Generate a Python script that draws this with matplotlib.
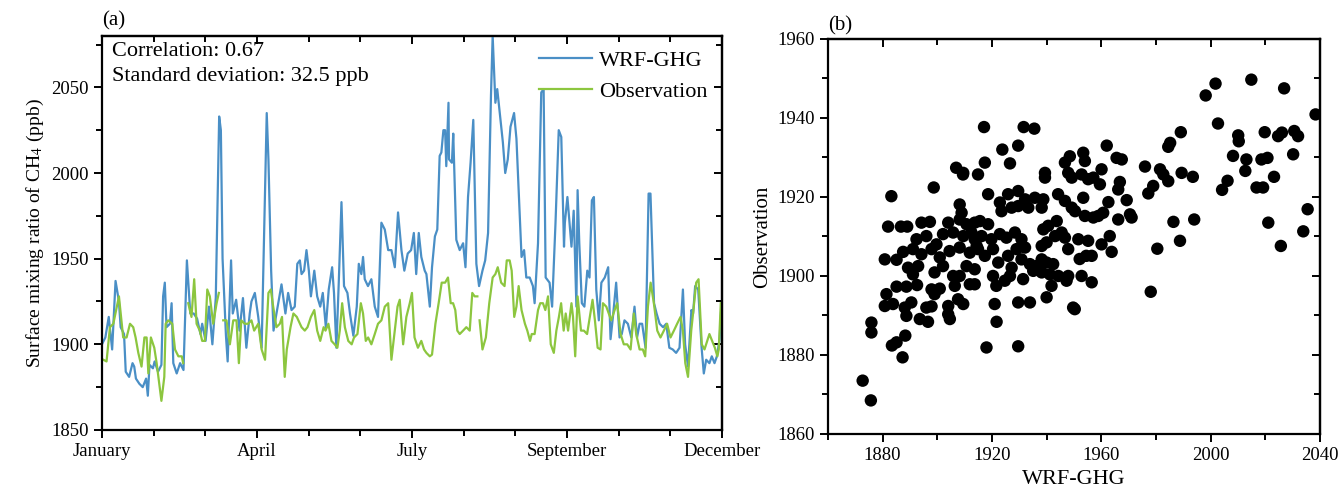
import numpy as np
import matplotlib
matplotlib.use("Agg")
from matplotlib import pyplot as plt
from matplotlib.ticker import MultipleLocator, FixedLocator

plt.rcParams['font.family'] = ['Liberation Serif', 'DejaVu Serif']
plt.rcParams['mathtext.fontset'] = 'stix'

# ---- (a) daily time series, x in day of year ----
wrf_day = [0, 2, 4, 6, 8, 10, 11, 13, 14, 16, 18, 19, 20, 22, 24, 26, 27, 28, 30, 31,
           33, 35, 36, 37, 38, 40, 41, 42, 44, 46, 48, 49, 50, 52, 54, 56, 58, 59, 61, 63,
           65, 67, 69, 70, 71, 73, 74, 76, 77, 79, 81, 83, 85, 87, 88, 90, 92, 94, 97, 98,
           99.6, 101, 105.7, 108, 109.6, 111.6, 113.5, 115, 116.5, 117.5, 119, 120.4, 121.8, 123, 125, 126.7, 128.5, 130, 131.8, 133.5,
           135.5, 136.6, 138, 139.4, 141, 142.5, 144.5, 146, 148, 150, 151.2, 152.7, 153.7, 154.7, 156.6, 158.6, 160.6, 162.5, 164.5, 166.5,
           168.5, 170.4, 172.4, 174.3, 176.3, 178, 180, 182, 183.6, 185, 186.5, 188, 190, 191, 193, 194.3, 196, 197.4, 198.8, 199.8,
           201, 202, 202.7, 204, 204.3, 206, 206.8, 208.6, 210.6, 212.6, 214, 215.5, 217, 218.6, 220.4, 222, 224, 225.6, 227.3, 229,
           230, 231.6, 232.7, 234, 236, 237.4, 238.9, 240.5, 242.6, 244, 245.3, 247, 248.5, 249.8, 251.8, 253.7, 254.7, 256.7, 258.6, 260,
           261.2, 263.5, 265, 267, 268.9, 270.4, 272, 272.5, 274, 276.4, 277.7, 279.3, 280, 281, 282.5, 284, 285.7, 287, 288.4, 289.6,
           291, 292.5, 294, 296, 298, 299.4, 300.8, 302.7, 304.7, 306, 307.6, 309.6, 311.6, 313.5, 315, 316.5, 318, 320, 321.8, 322.9,
           325, 326.5, 328.3, 330.3, 332.2, 334, 336, 338, 340, 342, 343.3, 345, 347, 348, 349.2, 351, 353, 354.3, 355.7, 357.6,
           359, 360.6, 362, 363.6, 364.5]
wrf_ch4 = [1900, 1904, 1916, 1897, 1937, 1925, 1910, 1906, 1884, 1881, 1889, 1887, 1880, 1877, 1875, 1880, 1870, 1888, 1886, 1890,
           1884, 1888, 1928, 1936, 1910, 1912, 1924, 1889, 1883, 1889, 1885, 1918, 1949, 1918, 1918, 1915, 1906, 1912, 1902, 1922,
           1900, 1927, 2033, 2025, 1950, 1905, 1890, 1949, 1918, 1926, 1908, 1927, 1898, 1918, 1925, 1930, 1916, 1898, 2035, 2008,
           1943, 1908, 1935, 1918, 1930, 1920, 1922, 1947, 1949, 1941, 1943, 1955, 1943, 1928, 1943, 1928, 1922, 1930, 1910, 1932,
           1945, 1930, 1898, 1936, 1983, 1934, 1930, 1918, 1905, 1922, 1947, 1941, 1951, 1938, 1934, 1938, 1922, 1916, 1971, 1967,
           1955, 1955, 1945, 1977, 1955, 1943, 1953, 1955, 1965, 1941, 1965, 1951, 1943, 1941, 1922, 1945, 1963, 1967, 2010, 2012,
           2025, 2025, 2004, 2041, 2008, 2006, 2023, 1961, 1955, 1959, 1945, 1986, 2006, 2031, 1947, 1934, 1943, 1949, 1965, 2045,
           2080, 2041, 2049, 2037, 2018, 2000, 2008, 2027, 2035, 2020, 1990, 1951, 1955, 1939, 1939, 1934, 1924, 1959, 2047, 2049,
           1939, 1936, 1922, 1971, 2025, 2021, 1957, 1971, 1986, 1957, 1978, 1922, 1990, 1959, 1924, 1922, 1943, 1939, 1984, 1986,
           1932, 1914, 1936, 1939, 1945, 1903, 1916, 1936, 1904, 1906, 1914, 1912, 1904, 1922, 1904, 1912, 1912, 1898, 1988, 1988,
           1924, 1918, 1912, 1910, 1912, 1898, 1897, 1895, 1898, 1932, 1900, 1887, 1920, 1918, 1934, 1932, 1898, 1883, 1891, 1889,
           1893, 1889, 1893, 1903, 1920]

nan = np.nan
obs_day = [0.8, 2.7, 4.7, 6.7, 10, 12.5, 14.5, 16.5, 18.4, 19.8, 21.4, 23.3, 25, 26.3, 27.3, 28.8, 30.8, 32.2, 33.5, 35,
           36.7, 37.5, 39, 41.4, 43, 45, 47, 47.8, 49.3, 50.8, 52.7, 54.3, 55.7, 57.6, 59, 60.6, 62, 63.5, 65.5, 67.5,
           68.8, 70, 71.4, 73.3, 75.3, 77.3, 79.2, 80.6, 82, 84, 86, 88, 89.6, 92, 94, 96, 98, 99.4, 100.8, 102.7,
           104.7, 106, 107.6, 108.8, 111, 112.7, 114.7, 117.5, 119.4, 121, 123, 125, 126.7, 128.5, 130.5, 131.6, 133.3, 135.1, 137, 138.6,
           140, 141.4, 143, 145, 147, 148.4, 150.4, 152.4, 153.7, 155.3, 156.7, 158.6, 160.6, 162.5, 164.5, 166.5, 168.5, 170.4, 172.4, 174,
           175.3, 177.3, 179.2, 181.2, 182.5, 184, 186, 188, 189.6, 191, 193, 194.3, 196.3, 198.2, 200, 202, 203.7, 205.3, 206.7, 208,
           209.2, 210.6, 212.6, 214.5, 216.5, 218, 219.4, 221, 221.6, 222.3, 224, 226, 228, 230, 231.6, 233, 235, 237, 238.3, 240,
           241.2, 242.7, 244, 245.3, 247, 249, 250.4, 252, 253, 254.7, 256.7, 258, 259.6, 261, 262.6, 264.2, 266, 267.5, 269, 270.3,
           271.8, 273, 274.4, 276.4, 277.3, 278.6, 280, 282, 283.7, 285.6, 288.8, 290.2, 291.8, 293.5, 294.9, 296.9, 299.8, 301.8, 303.3, 305.3,
           307.2, 309.2, 311.2, 313.1, 314.5, 316.5, 318.4, 319.8, 321.4, 323, 324.9, 326.9, 328.8, 330.8, 332.7, 334.7, 336.7, 338.6, 340.6, 342,
           343.4, 345, 346.9, 348.4, 349.8, 351.2, 353.1, 354.7, 356.3, 357.6, 359.2, 360.8, 362.3, 363.1, 364.3]
obs_ch4 = [1891, 1890, 1910, 1912, 1928, 1904, 1904, 1912, 1910, 1904, 1895, 1887, 1904, 1904, 1883, 1904, 1898, 1889, 1879, 1867,
           1881, 1912, 1914, 1912, 1897, 1893, 1893, 1889, nan, 1924, 1916, 1938, 1912, 1908, 1902, 1902, 1932, 1928, 1912, 1924,
           1930, nan, 1914, 1914, 1900, 1914, 1914, 1889, 1914, 1912, 1912, 1914, 1908, 1912, 1897, 1891, 1930, 1932, 1922, 1910,
           1912, 1916, 1881, 1897, 1910, 1918, 1916, 1910, 1908, 1910, 1916, 1920, 1908, 1902, 1910, 1908, 1912, 1902, 1900, 1898,
           1908, 1924, 1910, 1902, 1900, 1904, 1906, 1924, 1918, 1902, 1904, 1900, 1906, 1912, 1914, 1922, 1924, 1891, 1908, 1922,
           1926, 1900, 1916, 1924, 1930, 1904, 1898, 1902, 1897, 1895, 1893, 1894, 1912, 1924, 1936, 1936, 1939, 1924, 1924, 1920,
           1908, 1906, 1908, 1910, 1908, 1930, 1928, 1928, nan, 1914, 1897, 1904, 1924, 1939, 1941, 1945, 1936, 1934, 1949, 1949,
           1943, 1916, 1922, 1934, 1920, 1912, 1908, 1902, 1906, 1906, 1920, 1924, 1924, 1920, 1928, 1900, 1895, 1908, 1916, 1924,
           1908, 1918, 1908, 1924, 1916, 1893, 1928, 1908, 1908, 1906, 1926, 1914, 1898, 1897, 1924, 1922, 1914, 1920, 1924, 1906,
           1900, 1900, 1897, 1918, 1906, 1897, 1897, 1893, 1922, 1936, 1924, 1908, 1904, 1908, 1912, 1904, 1908, 1912, 1916, 1908,
           1889, 1881, 1908, 1922, 1936, 1938, 1900, 1897, 1902, 1906, 1902, 1898, 1893, 1897, 1924]

month_labels = ['January', 'April', 'July', 'September', 'December']

# ---- (b) scatter: WRF-GHG vs observation ----
scat_wrf = [1872.7, 1875.7, 1887.3, 1883.4, 1885.1, 1888.3, 1917.1, 1923.8, 1929.6, 1931.6, 1935.5, 1906.9, 1909.4,
            1883.2, 1898.7, 1882, 1886.7, 1889, 1894.2, 1897.3, 1904, 1908.2, 1910.7, 1913.7, 1908.2, 1908.9,
            1892.4, 1896, 1899.7, 1902.1, 1905.8, 1909.5, 1912.5, 1891.1, 1894.2, 1897.9, 1900.9, 1904.5, 1908.2,
            1911.9, 1914.4, 1880.8, 1885.1, 1887.5, 1889.3, 1891.1, 1893, 1899, 1902.1, 1905.8, 1908.2, 1910.7,
            1913.7, 1906.4, 1911.9, 1885.1, 1888.7, 1892.6, 1881.4, 1897.9, 1900.9, 1899, 1880.8, 1883.8, 1888.1,
            1890.5, 1888.7, 1896, 1897.9, 1904, 1904, 1904.6, 1907.6, 1909.5, 1893.6, 1896.6, 1875.9, 1875.9, 1909.5,
            1917.4, 1926.6, 1914.9, 1946.7, 1948.5, 1953.4, 1954, 1939.4, 1939.4, 1947.9, 1949.2, 1952.8, 1955.2,
            1918.6, 1922.9, 1925.9, 1929.6, 1932.1, 1935.7, 1938.8, 1923.5, 1927.2, 1929.6, 1933.3, 1938.2, 1944.2,
            1946.7, 1949.2, 1950.4, 1953.4, 1954, 1915.6, 1918.6, 1913.7, 1916.2, 1919.8, 1922.9, 1925.3, 1928.4,
            1930.8, 1929, 1932.1, 1938.8, 1940.6, 1943.7, 1945.5, 1943.1, 1946.7, 1938.2, 1940, 1947.9, 1951.6,
            1955.2, 1914.9, 1917.4, 1920.4, 1922.3, 1925.9, 1927.2, 1930.8, 1933.9, 1936.3, 1938.2, 1940, 1942.4,
            1935.1, 1938.2, 1913.7, 1920.4, 1921.6, 1924.7, 1926.6, 1931.4, 1941.2, 1944.3, 1947.9, 1952.8, 1956.5,
            1947.3, 1941.8, 1940, 1921, 1929.6, 1933.9, 1949.7, 1950.3, 1921.7, 1918, 1929.6, 1954.5, 1952.1,
            1989.1, 1985.2, 1984.5, 1962, 1965.6, 1967.5, 1976, 1960.1, 1981.5, 1982.7, 1984.5, 1989.4, 1993.5,
            1957.1, 1959.5, 1966.8, 1966.2, 1979, 1977.2, 1962.6, 1969.3, 1957.1, 1958.9, 1960.7, 1966.2, 1970.5,
            1971.1, 1986.4, 1994, 1960.1, 1963.1, 1963.8, 1956.5, 1988.8, 1980.5, 1978.1,
            1998.2, 2001.8, 2002.7, 2004.2, 2006.2, 2008.2, 2010.1, 2010.3, 2013.1, 2012.7, 2014.9, 2016.8, 2019.2,
            2018.6, 2020.8, 2019.8, 2023.2, 2024.7, 2026.1, 2021.1, 2025.7, 2026.9, 2030.6, 2032, 2030.2, 2035.5,
            2033.9, 2038.4]
scat_obs = [1873.5, 1868.5, 1879.4, 1882.4, 1883.2, 1884.9, 1937.7, 1932, 1933, 1937.7, 1937.3, 1927.4, 1925.7,
            1920.2, 1922.4, 1912.5, 1912.5, 1912.5, 1913.5, 1913.7, 1913.5, 1914.3, 1913.1, 1913.5, 1918.1, 1916,
            1909.3, 1910.1, 1908, 1910.6, 1911, 1910.1, 1911, 1906.8, 1905.5, 1906.8, 1904.7, 1906.3, 1907.2,
            1905.9, 1907.6, 1904.2, 1904.1, 1906.1, 1902.1, 1900.4, 1902.5, 1900.9, 1902.5, 1900, 1900, 1902.5,
            1901.7, 1897.5, 1897.9, 1897.3, 1897.3, 1897.7, 1895.4, 1896.6, 1896.8, 1895.4, 1892.4, 1892.9, 1892,
            1893.3, 1889.9, 1892, 1892.3, 1892.4, 1890.3, 1889.1, 1894.1, 1892.9, 1889.1, 1888.4, 1888.2, 1885.7, 1926.1,
            1928.7, 1928.5, 1925.7, 1928.7, 1930.3, 1931.2, 1929.1, 1926.1, 1924.9, 1926.1, 1924.9, 1925.7, 1924.5,
            1920.7, 1918.6, 1920.7, 1921.5, 1919.4, 1919.8, 1919.4, 1916.4, 1917.3, 1917.7, 1917.3, 1917.3, 1920.7,
            1919, 1917.3, 1916.4, 1919.8, 1915.2, 1913.9, 1913.1, 1909.3, 1910.1, 1909.3, 1910.6, 1909.7, 1911,
            1909.3, 1906.8, 1907.2, 1911.8, 1912.7, 1913.9, 1911, 1910.1, 1909.7, 1907.6, 1908.5, 1906.8, 1909.3,
            1908.9, 1906.8, 1905.1, 1906.8, 1903.4, 1905.1, 1902.1, 1904.2, 1903, 1902.5, 1904.2, 1903.4, 1903,
            1901.3, 1900.9, 1897.9, 1900, 1897.5, 1898.8, 1900, 1899.2, 1900.4, 1900, 1900, 1900, 1898.4,
            1898.8, 1897.5, 1894.6, 1892.9, 1893.3, 1893.3, 1892, 1891.6, 1888.4, 1881.9, 1882.2, 1905.1, 1904.3,
            1936.4, 1933.7, 1932.7, 1933, 1929.9, 1929.5, 1927.7, 1927, 1927, 1925.7, 1924, 1926.1, 1925.1,
            1924.9, 1923.2, 1923.8, 1921.9, 1922.8, 1920.9, 1918.7, 1919.2, 1914.8, 1915.2, 1916, 1914.3, 1915.6,
            1914.8, 1913.7, 1914.3, 1908, 1910.1, 1906.1, 1905.1, 1908.9, 1906.9, 1896,
            1945.7, 1948.7, 1938.6, 1921.8, 1924.1, 1930.4, 1935.6, 1934.1, 1929.5, 1926.6, 1949.7, 1922.4, 1922.4,
            1929.5, 1929.9, 1936.4, 1925.1, 1935.4, 1936.3, 1913.5, 1907.6, 1947.5, 1936.7, 1935.4, 1930.8, 1916.9,
            1911.3, 1940.9]
scat_ticks = [1880, 1920, 1960, 2000, 2040]


def style_axes(ax):
    for s in ax.spines.values():
        s.set_linewidth(1.6)
    ax.tick_params(which='both', direction='out', width=1.4, labelsize=13.5)
    ax.tick_params(which='major', length=6)
    ax.tick_params(which='minor', length=4)


fig = plt.figure(figsize=(13.38, 4.94), dpi=100)

# panel (a)
ax1 = fig.add_axes([0.0762, 0.1296, 0.4634, 0.7976])
ax1.plot(wrf_day, wrf_ch4, color='#4a8fc6', lw=1.6, label='WRF-GHG')
ax1.plot(obs_day, obs_ch4, color='#8cc63f', lw=1.6, label='Observation')
ax1.set_xlim(0, 365)
ax1.set_ylim(1850, 2080)
ax1.xaxis.set_major_locator(FixedLocator(np.linspace(0, 365, 5)))
ax1.xaxis.set_minor_locator(FixedLocator(np.linspace(0, 365, 13)))
ax1.set_xticklabels(month_labels)
ax1.yaxis.set_major_locator(MultipleLocator(50))
ax1.yaxis.set_minor_locator(MultipleLocator(25))
ax1.set_ylabel('Surface mixing ratio of CH$_4$ (ppb)', fontsize=14)
style_axes(ax1)
ax1.text(0.016, 0.985, 'Correlation: 0.67\nStandard deviation: 32.5 ppb', transform=ax1.transAxes,
         va='top', ha='left', fontsize=16, linespacing=1.45)
ax1.legend(loc='upper right', frameon=False, fontsize=16, handlelength=2.4,
           handletextpad=0.3, borderaxespad=0.25, labelspacing=0.45)
ax1.text(0.0, 1.015, '(a)', transform=ax1.transAxes, fontsize=15, ha='left', va='bottom')

# panel (b)
ax2 = fig.add_axes([0.6188, 0.1215, 0.3677, 0.7996])
ax2.scatter(scat_wrf, scat_obs, s=80, color='black', edgecolors='none')
ax2.set_xlim(1860, 2040)
ax2.set_ylim(1860, 1960)
ax2.xaxis.set_major_locator(FixedLocator(scat_ticks))
ax2.xaxis.set_minor_locator(MultipleLocator(20))
ax2.yaxis.set_major_locator(MultipleLocator(20))
ax2.yaxis.set_minor_locator(MultipleLocator(10))
ax2.set_xlabel('WRF-GHG', fontsize=16)
ax2.set_ylabel('Observation', fontsize=15)
style_axes(ax2)
ax2.text(0.0, 1.01, '(b)', transform=ax2.transAxes, fontsize=15, ha='left', va='bottom')

# mirrored inward ticks on top and right
for ax in (ax1, ax2):
    top = ax.secondary_xaxis('top')
    top.xaxis.set_major_locator(ax.xaxis.get_major_locator())
    top.xaxis.set_minor_locator(ax.xaxis.get_minor_locator())
    top.tick_params(which='both', direction='in', width=1.4, labeltop=False)
    top.tick_params(which='major', length=6)
    top.tick_params(which='minor', length=4)
    right = ax.secondary_yaxis('right')
    right.yaxis.set_major_locator(ax.yaxis.get_major_locator())
    right.yaxis.set_minor_locator(ax.yaxis.get_minor_locator())
    right.tick_params(which='both', direction='in', width=1.4, labelright=False)
    right.tick_params(which='major', length=6)
    right.tick_params(which='minor', length=4)
    top.spines['top'].set_linewidth(1.6)
    right.spines['right'].set_linewidth(1.6)

fig.savefig('out.png', dpi=100)
